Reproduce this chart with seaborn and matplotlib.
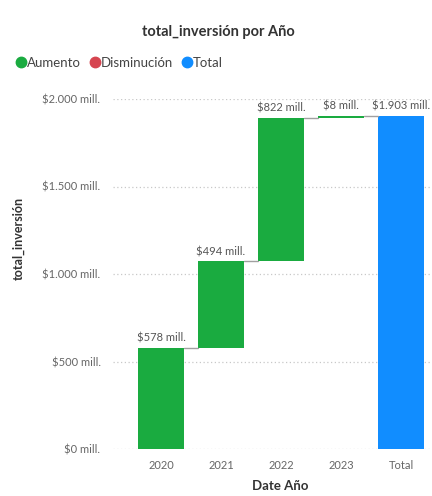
import numpy as np
import pandas as pd
import matplotlib
matplotlib.use("Agg")
import matplotlib.pyplot as plt
import seaborn as sns
from matplotlib.lines import Line2D

# datos del gráfico de cascada
categorias = ["2020", "2021", "2022", "2023", "Total"]
cambios = [578, 494, 822, 8]
total = 1903
etiquetas = ["$578 mill.", "$494 mill.", "$822 mill.", "$8 mill.", "$1.903 mill."]
ticks_y = [0, 500, 1000, 1500, 2000]
ticks_y_txt = ["$0 mill.", "$500 mill.", "$1.000 mill.", "$1.500 mill.", "$2.000 mill."]

colores = {"Aumento": "#1AAB40", "Disminución": "#D64550", "Total": "#118DFF"}

# construir tabla: inicio y altura de cada barra
fin = np.cumsum(cambios)
inicio = np.concatenate([[0], fin[:-1]])
df = pd.DataFrame({
    "cat": categorias,
    "inicio": list(inicio) + [0],
    "altura": cambios + [total],
    "tipo": ["Aumento" if c >= 0 else "Disminución" for c in cambios] + ["Total"],
})
df["fin"] = df["inicio"] + df["altura"]

sns.set_theme(style="white")
plt.rcParams["font.family"] = ["Lato", "DejaVu Sans"]

fig = plt.figure(figsize=(4.32, 4.96), dpi=100)
ax = fig.add_axes([113 / 432, 1 - 449 / 496, (431 - 113) / 432, 350 / 496])

ancho = 0.77
sns.barplot(data=df, x="cat", y="altura", bottom=df["inicio"], width=ancho,
            color=colores["Total"], ax=ax, zorder=3, saturation=1)
for p, t in zip(ax.patches, df["tipo"]):
    p.set_facecolor(colores[t])
    p.set_edgecolor("none")

# líneas de conexión
for i in range(len(df) - 1):
    nivel = df["fin"][i]
    ax.plot([i + ancho / 2, i + 1 - ancho / 2], [nivel, nivel], color="#a0a0a0",
            lw=1.0, zorder=4)

# etiquetas de datos
for i, txt in enumerate(etiquetas):
    ax.text(i, df["fin"][i] + 25, txt, ha="center", va="bottom", fontsize=8,
            color="#555555")

ax.set_xlim(-0.8, 4.5)
ax.set_ylim(0, 2000)
ax.set_yticks(ticks_y)
ax.set_yticklabels(ticks_y_txt)
ax.tick_params(axis="both", length=0, labelsize=8, labelcolor="#666666")
ax.tick_params(axis="y", pad=9)
ax.tick_params(axis="x", pad=8)
ax.yaxis.grid(True, linestyle=(0, (1, 2)), color="#c8c8c8", lw=0.9, zorder=0)
for s in ax.spines.values():
    s.set_visible(False)
ax.set_xlabel("Date Año", fontsize=9.5, color="#333333", fontweight="bold")
ax.xaxis.set_label_coords(0.525, -0.09)
ax.set_ylabel("")

fig.text(0.043, 0.52, "total_inversión", rotation=90, ha="center", va="center",
         fontsize=9, color="#333333", fontweight="bold")
fig.text(0.505, 0.935, "total_inversión por Año", ha="center", va="center",
         fontsize=10.5, color="#333333", fontweight="bold")

handles = [Line2D([], [], marker="o", ls="", markersize=7.5, color=c) for c in colores.values()]
fig.legend(handles, list(colores.keys()), loc="center left", bbox_to_anchor=(0.035, 0.873),
           ncol=3, frameon=False, fontsize=9.5, handletextpad=0.0, columnspacing=0.6,
           handlelength=0.9, labelcolor="#444444", borderaxespad=0, borderpad=0)

fig.savefig("out.png", dpi=100)
